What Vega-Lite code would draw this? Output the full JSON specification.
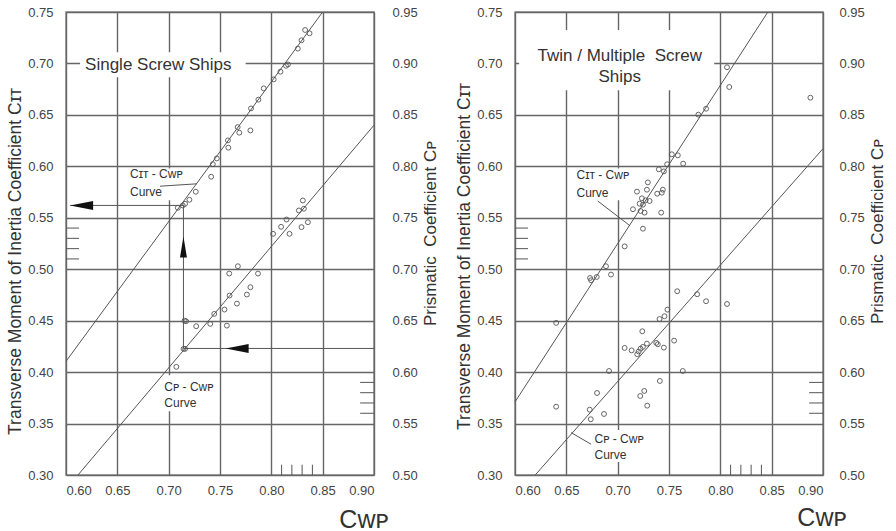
{
  "$schema": "https://vega.github.io/schema/vega-lite/v6.json",
  "padding": {"left": 5, "top": 5, "right": 0, "bottom": 0},
  "spacing": 14,
  "config": {
    "font": "Liberation Sans",
    "view": {"stroke": "#8c8c8c", "strokeWidth": 1.5},
    "axis": {
      "gridColor": "#666666", "gridWidth": 1.4, "gridOpacity": 1,
      "domain": false, "ticks": false,
      "labelFont": "Liberation Sans", "labelFontSize": 13, "labelColor": "#444",
      "titleFont": "Liberation Sans", "titleFontWeight": "normal", "titleColor": "#333"
    }
  },
  "datasets": {
    "ss_cit": [
      {"x": 0.8329, "y": 0.7325}, {"x": 0.8372, "y": 0.7293}, {"x": 0.8294, "y": 0.7225}, {"x": 0.8258, "y": 0.7144},
      {"x": 0.8162, "y": 0.699}, {"x": 0.8143, "y": 0.6977}, {"x": 0.8089, "y": 0.692}, {"x": 0.8023, "y": 0.6845},
      {"x": 0.7926, "y": 0.6758}, {"x": 0.7874, "y": 0.6648}, {"x": 0.7802, "y": 0.6563}, {"x": 0.7672, "y": 0.6381},
      {"x": 0.7688, "y": 0.6327}, {"x": 0.7796, "y": 0.6349}, {"x": 0.7577, "y": 0.6252}, {"x": 0.7581, "y": 0.6181},
      {"x": 0.7469, "y": 0.6077}, {"x": 0.743, "y": 0.6021}, {"x": 0.7414, "y": 0.5899}, {"x": 0.7264, "y": 0.5753},
      {"x": 0.7202, "y": 0.5675}, {"x": 0.716, "y": 0.5636}, {"x": 0.7137, "y": 0.562}, {"x": 0.7089, "y": 0.5597}
    ],
    "ss_cp": [
      {"x": 0.8307, "y": 0.7668}, {"x": 0.8317, "y": 0.7588}, {"x": 0.8268, "y": 0.7571}, {"x": 0.8356, "y": 0.7457},
      {"x": 0.8294, "y": 0.7409}, {"x": 0.8148, "y": 0.7483}, {"x": 0.8095, "y": 0.7412}, {"x": 0.8177, "y": 0.7344},
      {"x": 0.8017, "y": 0.7344}, {"x": 0.7674, "y": 0.7029}, {"x": 0.759, "y": 0.6958}, {"x": 0.787, "y": 0.6958},
      {"x": 0.7796, "y": 0.6825}, {"x": 0.7762, "y": 0.6754}, {"x": 0.7593, "y": 0.6744}, {"x": 0.7665, "y": 0.6666},
      {"x": 0.7544, "y": 0.6608}, {"x": 0.7444, "y": 0.6566}, {"x": 0.7405, "y": 0.6469}, {"x": 0.7567, "y": 0.6452},
      {"x": 0.7268, "y": 0.6446}, {"x": 0.717, "y": 0.6494}, {"x": 0.7155, "y": 0.65}, {"x": 0.716, "y": 0.6226},
      {"x": 0.7145, "y": 0.6226}, {"x": 0.7075, "y": 0.6051}
    ],
    "ss_rule": [
      {"x": 0.6, "y": 0.4105, "x2": 0.85, "y2": 0.75},
      {"x": 0.604, "y": 0.562, "x2": 0.7144, "y2": 0.562},
      {"x": 0.7144, "y": 0.423, "x2": 0.7144, "y2": 0.562},
      {"x": 0.7144, "y": 0.423, "x2": 0.9, "y2": 0.423},
      {"x": 0.6916, "y": 0.5807, "x2": 0.7274, "y2": 0.583},
      {"x": 0.6, "y": 0.54, "x2": 0.6127, "y2": 0.54},
      {"x": 0.6, "y": 0.53, "x2": 0.6127, "y2": 0.53},
      {"x": 0.6, "y": 0.52, "x2": 0.6127, "y2": 0.52},
      {"x": 0.6, "y": 0.51, "x2": 0.6127, "y2": 0.51},
      {"x": 0.8865, "y": 0.39, "x2": 0.9, "y2": 0.39},
      {"x": 0.8865, "y": 0.38, "x2": 0.9, "y2": 0.38},
      {"x": 0.8865, "y": 0.37, "x2": 0.9, "y2": 0.37},
      {"x": 0.8865, "y": 0.36, "x2": 0.9, "y2": 0.36},
      {"x": 0.81, "y": 0.3, "x2": 0.81, "y2": 0.31},
      {"x": 0.82, "y": 0.3, "x2": 0.82, "y2": 0.31},
      {"x": 0.83, "y": 0.3, "x2": 0.83, "y2": 0.31},
      {"x": 0.84, "y": 0.3, "x2": 0.84, "y2": 0.31}
    ],
    "ss_cpline": [{"x": 0.6117, "y": 0.5, "x2": 0.9, "y2": 0.84}],
    "ss_box": [
      {"x": 0.6137, "x2": 0.775, "y": 0.6865, "y2": 0.711},
      {"x": 0.66, "x2": 0.706, "y": 0.567, "y2": 0.598},
      {"x": 0.693, "x2": 0.746, "y": 0.362, "y2": 0.397}
    ],
    "ss_head": [
      {"x": 0.6152, "y": 0.562, "dir": "left"},
      {"x": 0.7667, "y": 0.423, "dir": "left"},
      {"x": 0.7144, "y": 0.5216, "dir": "up"}
    ],
    "ss_text": [
      {"x": 0.6186, "y": 0.6985, "text": "Single Screw Ships", "kind": "title"},
      {"x": 0.6623, "y": 0.5921, "text": "Cɪᴛ - Cᴡᴘ", "kind": "label"},
      {"x": 0.6623, "y": 0.5749, "text": "Curve", "kind": "label"},
      {"x": 0.6958, "y": 0.3852, "text": "Cᴘ - Cᴡᴘ", "kind": "label"},
      {"x": 0.6958, "y": 0.37, "text": "Curve", "kind": "label"}
    ],
    "tw_cit": [
      {"x": 0.8065, "y": 0.6963}, {"x": 0.8087, "y": 0.6771}, {"x": 0.7861, "y": 0.656}, {"x": 0.7786, "y": 0.6502},
      {"x": 0.7527, "y": 0.6117}, {"x": 0.7586, "y": 0.6107}, {"x": 0.7638, "y": 0.6026}, {"x": 0.7482, "y": 0.602},
      {"x": 0.7401, "y": 0.5971}, {"x": 0.745, "y": 0.5951}, {"x": 0.7294, "y": 0.5844}, {"x": 0.7188, "y": 0.5754},
      {"x": 0.7285, "y": 0.5773}, {"x": 0.744, "y": 0.5773}, {"x": 0.743, "y": 0.5744}, {"x": 0.7385, "y": 0.5734},
      {"x": 0.7236, "y": 0.5689}, {"x": 0.7272, "y": 0.567}, {"x": 0.7311, "y": 0.5663}, {"x": 0.7214, "y": 0.5637},
      {"x": 0.7246, "y": 0.5627}, {"x": 0.7149, "y": 0.5583}, {"x": 0.7223, "y": 0.5566}, {"x": 0.7262, "y": 0.555},
      {"x": 0.7424, "y": 0.555}, {"x": 0.7246, "y": 0.5394}, {"x": 0.7068, "y": 0.5222}, {"x": 0.6886, "y": 0.5029},
      {"x": 0.6731, "y": 0.4915}, {"x": 0.6741, "y": 0.4893}, {"x": 0.6796, "y": 0.4925}, {"x": 0.6935, "y": 0.4948},
      {"x": 0.6401, "y": 0.4478}
    ],
    "tw_cp": [
      {"x": 0.758, "y": 0.6786}, {"x": 0.7774, "y": 0.6757}, {"x": 0.7861, "y": 0.6689}, {"x": 0.8065, "y": 0.6662},
      {"x": 0.7485, "y": 0.6607}, {"x": 0.7456, "y": 0.6543}, {"x": 0.7408, "y": 0.6516}, {"x": 0.724, "y": 0.6397},
      {"x": 0.755, "y": 0.6306}, {"x": 0.7376, "y": 0.6284}, {"x": 0.7391, "y": 0.6271}, {"x": 0.745, "y": 0.6238},
      {"x": 0.7285, "y": 0.6277}, {"x": 0.7246, "y": 0.6245}, {"x": 0.7223, "y": 0.6228}, {"x": 0.7205, "y": 0.62},
      {"x": 0.7191, "y": 0.6174}, {"x": 0.7136, "y": 0.6211}, {"x": 0.7068, "y": 0.6235}, {"x": 0.6916, "y": 0.6011},
      {"x": 0.7634, "y": 0.6011}, {"x": 0.7411, "y": 0.5914}, {"x": 0.7259, "y": 0.5817}, {"x": 0.722, "y": 0.5768},
      {"x": 0.7288, "y": 0.5674}, {"x": 0.6799, "y": 0.5797}, {"x": 0.6728, "y": 0.5635}, {"x": 0.6738, "y": 0.5542},
      {"x": 0.6867, "y": 0.5593}, {"x": 0.6401, "y": 0.5664}, {"x": 0.8877, "y": 0.8667}
    ],
    "tw_rule": [
      {"x": 0.6, "y": 0.371, "x2": 0.8463, "y2": 0.75},
      {"x": 0.6806, "y": 0.5663, "x2": 0.7114, "y2": 0.5427},
      {"x": 0.6547, "y": 0.3412, "x2": 0.6741, "y2": 0.3299},
      {"x": 0.6, "y": 0.54, "x2": 0.6127, "y2": 0.54},
      {"x": 0.6, "y": 0.53, "x2": 0.6127, "y2": 0.53},
      {"x": 0.6, "y": 0.52, "x2": 0.6127, "y2": 0.52},
      {"x": 0.6, "y": 0.51, "x2": 0.6127, "y2": 0.51},
      {"x": 0.8865, "y": 0.39, "x2": 0.9, "y2": 0.39},
      {"x": 0.8865, "y": 0.38, "x2": 0.9, "y2": 0.38},
      {"x": 0.8865, "y": 0.37, "x2": 0.9, "y2": 0.37},
      {"x": 0.8865, "y": 0.36, "x2": 0.9, "y2": 0.36},
      {"x": 0.81, "y": 0.3, "x2": 0.81, "y2": 0.31},
      {"x": 0.82, "y": 0.3, "x2": 0.82, "y2": 0.31},
      {"x": 0.83, "y": 0.3, "x2": 0.83, "y2": 0.31},
      {"x": 0.84, "y": 0.3, "x2": 0.84, "y2": 0.31}
    ],
    "tw_cpline": [{"x": 0.6197, "y": 0.5, "x2": 0.9, "y2": 0.8172}],
    "tw_box": [
      {"x": 0.604, "x2": 0.794, "y": 0.674, "y2": 0.7325},
      {"x": 0.655, "x2": 0.706, "y": 0.567, "y2": 0.598},
      {"x": 0.675, "x2": 0.73, "y": 0.3127, "y2": 0.3438}
    ],
    "tw_text": [
      {"x": 0.702, "y": 0.7072, "text": "Twin / Multiple\u00a0 Screw", "kind": "title"},
      {"x": 0.702, "y": 0.6868, "text": "Ships", "kind": "title"},
      {"x": 0.6599, "y": 0.5913, "text": "Cɪᴛ - Cᴡᴘ", "kind": "label"},
      {"x": 0.6599, "y": 0.5744, "text": "Curve", "kind": "label"},
      {"x": 0.6774, "y": 0.3353, "text": "Cᴘ - Cᴡᴘ", "kind": "label"},
      {"x": 0.6774, "y": 0.3198, "text": "Curve", "kind": "label"}
    ]
  },
  "hconcat": [
    {
      "width": 308, "height": 463,
      "encoding": {
        "x": {"field": "x", "type": "quantitative",
          "scale": {"domain": [0.6, 0.9], "nice": false, "zero": false},
          "axis": {"values": [0.6, 0.65, 0.7, 0.75, 0.8, 0.85, 0.9], "format": ".2f", "grid": true, "labelPadding": 9,
            "title": "Cᴡᴘ", "titleFontSize": 25, "titleAlign": "right", "titleBaseline": "alphabetic", "titleX": 322, "titleY": 52}}
      },
      "layer": [
        {
          "encoding": {
            "y": {"field": "y", "type": "quantitative",
              "scale": {"domain": [0.3, 0.75], "nice": false, "zero": false},
              "axis": {"orient": "left", "values": [0.3, 0.35, 0.4, 0.45, 0.5, 0.55, 0.6, 0.65, 0.7, 0.75], "format": ".2f", "grid": true,
                "labelPadding": 13, "title": "Transverse Moment of Inertia Coefficient Cɪᴛ", "titleFontSize": 17.5, "titlePadding": 3, "titleY": 249}}
          },
          "layer": [
            {"data": {"name": "ss_box"}, "mark": {"type": "rect", "fill": "white", "stroke": null}, "encoding": {"x2": {"field": "x2"}, "y2": {"field": "y2"}}},
            {"data": {"name": "ss_rule"}, "mark": {"type": "rule", "color": "#555", "strokeWidth": 1}, "encoding": {"x2": {"field": "x2"}, "y2": {"field": "y2"}}},
            {"data": {"name": "ss_cit"}, "mark": {"type": "point", "shape": "circle", "size": 24, "color": "#555", "filled": false, "strokeWidth": 0.9, "opacity": 1}},
            {"data": {"name": "ss_head"}, "transform": [{"filter": "datum.dir == 'left'"}], "mark": {"type": "point", "shape": "M-1,0L1,-0.39L1,0.39Z", "size": 529, "filled": true, "color": "#111", "strokeWidth": 0, "opacity": 1}},
            {"data": {"name": "ss_head"}, "transform": [{"filter": "datum.dir == 'up'"}], "mark": {"type": "point", "shape": "M0,-1L0.33,1L-0.33,1Z", "size": 441, "filled": true, "color": "#111", "strokeWidth": 0, "opacity": 1}},
            {"data": {"name": "ss_text"}, "transform": [{"filter": "datum.kind == 'title'"}], "mark": {"type": "text", "fontSize": 17, "align": "left", "baseline": "middle", "color": "#333"}, "encoding": {"text": {"field": "text"}}},
            {"data": {"name": "ss_text"}, "transform": [{"filter": "datum.kind == 'label'"}], "mark": {"type": "text", "fontSize": 12, "align": "left", "baseline": "middle", "color": "#333"}, "encoding": {"text": {"field": "text"}}}
          ]
        },
        {
          "encoding": {
            "y": {"field": "y", "type": "quantitative",
              "scale": {"domain": [0.5, 0.95], "nice": false, "zero": false},
              "axis": {"orient": "right", "values": [0.5, 0.55, 0.6, 0.65, 0.7, 0.75, 0.8, 0.85, 0.9, 0.95], "format": ".2f", "grid": false,
                "labelPadding": 18, "title": "Prismatic\u00a0 Coefficient Cᴘ", "titleFontSize": 17, "titleAngle": 270, "titleBaseline": "top", "titlePadding": 5, "titleY": 221}}
          },
          "layer": [
            {"data": {"name": "ss_cpline"}, "mark": {"type": "rule", "color": "#555", "strokeWidth": 1}, "encoding": {"x2": {"field": "x2"}, "y2": {"field": "y2"}}},
            {"data": {"name": "ss_cp"}, "mark": {"type": "point", "shape": "circle", "size": 24, "color": "#555", "filled": false, "strokeWidth": 0.9, "opacity": 1}}
          ]
        }
      ],
      "resolve": {"scale": {"y": "independent"}}
    },
    {
      "width": 308, "height": 463,
      "encoding": {
        "x": {"field": "x", "type": "quantitative",
          "scale": {"domain": [0.6, 0.9], "nice": false, "zero": false},
          "axis": {"values": [0.6, 0.65, 0.7, 0.75, 0.8, 0.85, 0.9], "format": ".2f", "grid": true, "labelPadding": 9,
            "title": "Cᴡᴘ", "titleFontSize": 25, "titleAlign": "right", "titleBaseline": "alphabetic", "titleX": 331, "titleY": 50}}
      },
      "layer": [
        {
          "encoding": {
            "y": {"field": "y", "type": "quantitative",
              "scale": {"domain": [0.3, 0.75], "nice": false, "zero": false},
              "axis": {"orient": "left", "values": [0.3, 0.35, 0.4, 0.45, 0.5, 0.55, 0.6, 0.65, 0.7, 0.75], "format": ".2f", "grid": true,
                "labelPadding": 13, "title": "Transverse Moment of Inertia Coefficient Cɪᴛ", "titleFontSize": 17.5, "titlePadding": 3, "titleY": 244}}
          },
          "layer": [
            {"data": {"name": "tw_box"}, "mark": {"type": "rect", "fill": "white", "stroke": null}, "encoding": {"x2": {"field": "x2"}, "y2": {"field": "y2"}}},
            {"data": {"name": "tw_rule"}, "mark": {"type": "rule", "color": "#555", "strokeWidth": 1}, "encoding": {"x2": {"field": "x2"}, "y2": {"field": "y2"}}},
            {"data": {"name": "tw_cit"}, "mark": {"type": "point", "shape": "circle", "size": 24, "color": "#555", "filled": false, "strokeWidth": 0.9, "opacity": 1}},
            {"data": {"name": "tw_text"}, "transform": [{"filter": "datum.kind == 'title'"}], "mark": {"type": "text", "fontSize": 17, "align": "center", "baseline": "middle", "color": "#333"}, "encoding": {"text": {"field": "text"}}},
            {"data": {"name": "tw_text"}, "transform": [{"filter": "datum.kind == 'label'"}], "mark": {"type": "text", "fontSize": 12, "align": "left", "baseline": "middle", "color": "#333"}, "encoding": {"text": {"field": "text"}}}
          ]
        },
        {
          "encoding": {
            "y": {"field": "y", "type": "quantitative",
              "scale": {"domain": [0.5, 0.95], "nice": false, "zero": false},
              "axis": {"orient": "right", "values": [0.5, 0.55, 0.6, 0.65, 0.7, 0.75, 0.8, 0.85, 0.9, 0.95], "format": ".2f", "grid": false,
                "labelPadding": 16, "title": "Prismatic\u00a0 Coefficient Cᴘ", "titleFontSize": 17, "titleAngle": 270, "titleBaseline": "top", "titlePadding": 5, "titleY": 219}}
          },
          "layer": [
            {"data": {"name": "tw_cpline"}, "mark": {"type": "rule", "color": "#555", "strokeWidth": 1}, "encoding": {"x2": {"field": "x2"}, "y2": {"field": "y2"}}},
            {"data": {"name": "tw_cp"}, "mark": {"type": "point", "shape": "circle", "size": 24, "color": "#555", "filled": false, "strokeWidth": 0.9, "opacity": 1}}
          ]
        }
      ],
      "resolve": {"scale": {"y": "independent"}}
    }
  ]
}
